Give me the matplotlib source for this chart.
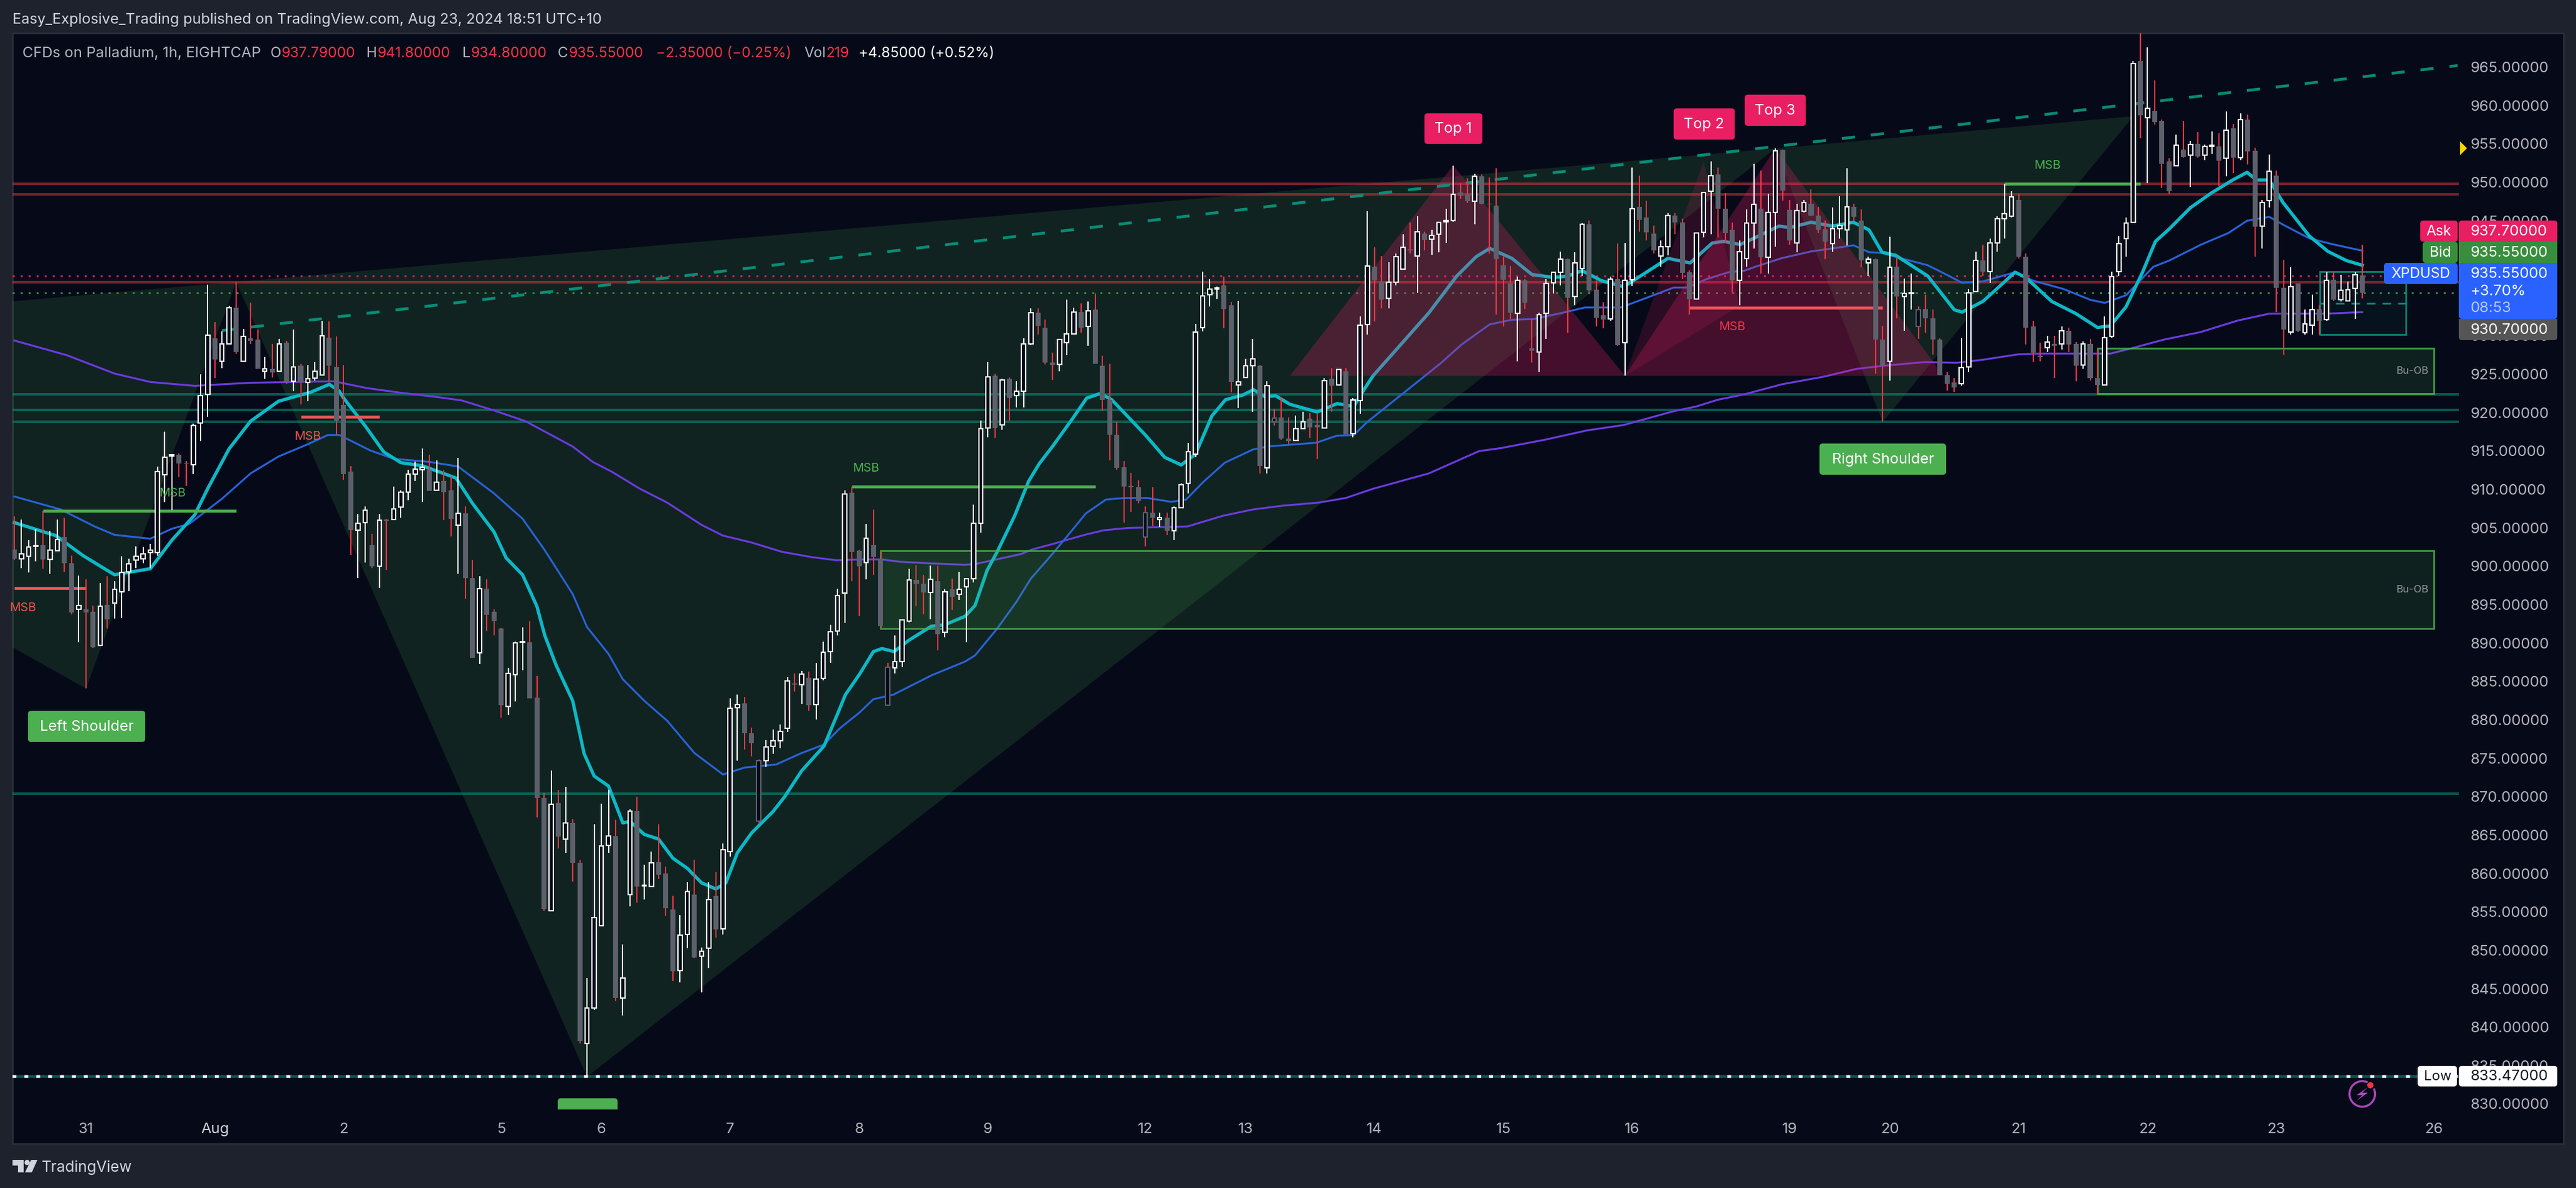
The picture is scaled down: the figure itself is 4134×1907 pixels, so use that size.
import matplotlib
matplotlib.use("Agg")
import matplotlib.pyplot as plt
from matplotlib.patches import Polygon, Rectangle, FancyBboxPatch, Circle, Arc
import numpy as np

plt.rcParams['font.family'] = ['Inter', 'DejaVu Sans']

# ---------- candle data (hourly bars) ----------
opens = [902.1,900.9,901.2,902.5,902.7,900.8,901.9,903.7,900.3,894.3,
894.3,894.0,889.6,894.9,895.1,896.6,899.2,900.7,900.9,901.7,
901.7,911.8,914.3,914.4,913.3,913.1,918.6,922.3,929.6,926.6,
928.9,933.6,926.6,929.6,929.4,925.3,925.6,925.3,929.0,924.0,
926.0,923.8,924.4,924.8,929.7,925.9,920.9,912.2,904.6,905.6,
902.7,899.9,906.0,906.0,907.6,909.6,911.9,912.5,912.5,909.8,
911.0,909.8,905.3,906.8,898.4,888.6,897.0,894.0,891.8,881.7,
885.8,890.0,890.0,882.8,869.7,855.1,869.1,864.4,866.5,861.3,
837.8,842.4,853.1,863.6,864.8,843.7,857.2,868.0,858.3,858.2,
861.4,859.9,855.2,847.3,852.0,857.2,849.1,850.2,857.0,852.7,
862.8,881.5,882.1,878.2,874.6,874.6,876.5,877.2,878.8,884.7,
884.5,885.4,881.9,885.3,888.8,891.5,896.4,909.5,901.9,900.4,
902.7,900.9,886.8,886.7,887.5,892.8,898.1,897.6,896.5,898.0,
891.3,896.9,896.3,897.2,898.3,905.5,917.9,924.7,918.3,924.3,
922.1,922.7,928.9,932.9,931.0,926.4,926.2,929.0,930.2,933.0,
931.1,933.3,926.0,921.6,917.0,912.8,910.4,910.2,906.9,906.9,
906.0,906.2,904.5,907.5,910.7,914.5,931.0,935.3,936.0,936.5,
933.9,923.5,924.5,926.0,926.0,912.7,919.2,919.3,916.5,916.3,
917.8,919.1,918.3,917.9,924.3,923.5,925.3,917.2,921.5,931.4,
938.9,937.0,934.8,936.9,938.6,941.2,940.3,943.2,942.5,943.1,
944.8,944.9,948.6,948.3,947.4,950.7,947.1,946.9,939.1,936.7,
932.8,937.1,928.3,927.8,932.8,936.8,938.2,939.9,935.0,938.7,
944.4,935.9,932.6,932.1,937.3,929.0,937.2,946.7,945.3,943.2,
940.3,941.5,945.6,944.7,938.2,934.7,943.4,948.7,950.9,946.5,
943.7,937.1,940.0,944.6,946.5,940.1,946.0,954.1,946.3,942.0,
946.1,947.1,945.6,943.8,941.9,943.9,943.7,946.7,944.9,939.4,
939.9,929.4,926.6,938.9,935.0,935.4,933.3,933.4,932.2,929.4,
924.8,923.8,923.7,925.9,935.7,939.7,938.3,942.0,945.2,945.5,
947.6,940.2,931.1,927.3,928.4,928.9,928.9,930.6,928.9,926.1,
928.9,924.4,923.5,929.8,938.3,942.6,944.7,965.7,958.3,959.2,
957.9,952.6,952.1,954.2,953.4,954.9,953.4,954.6,954.6,953.0,
956.9,953.1,958.1,954.0,944.2,947.5,950.8,936.2,930.4,936.7,
930.3,931.3,933.4,932.0,937.2,934.6,934.5,936.1,937.79]

closes = [900.9,901.5,902.4,902.6,900.8,902.0,903.4,900.3,893.9,894.8,
893.9,889.4,894.7,893.0,896.9,899.1,900.2,901.2,901.5,902.0,
912.2,914.1,914.4,913.3,913.2,918.2,922.1,930.0,926.8,928.9,
933.6,927.8,929.8,929.3,925.6,925.6,925.1,928.9,923.9,925.9,
923.8,924.3,925.3,929.9,926.0,918.9,911.9,904.6,905.5,907.2,
899.9,905.9,905.8,907.4,909.6,911.9,912.6,912.8,909.7,910.9,
909.6,906.1,906.8,898.4,888.0,897.0,893.6,892.8,881.8,886.0,
889.9,890.1,882.7,869.7,855.3,868.9,864.7,866.5,861.3,838.1,
842.4,854.2,863.5,864.8,843.7,846.3,868.0,858.2,858.4,861.3,
859.8,855.4,847.2,851.9,857.6,849.0,849.8,856.5,852.6,863.0,
881.4,881.9,878.2,876.9,866.7,876.4,877.2,878.4,885.0,884.5,
885.9,881.8,885.2,888.7,891.4,896.1,909.3,901.8,899.9,903.6,
901.1,892.1,881.8,887.5,892.9,898.1,897.6,896.5,898.2,891.1,
896.6,895.9,896.9,898.3,905.5,917.8,924.6,917.9,924.2,921.8,
922.7,928.9,932.9,931.2,926.4,926.1,929.4,930.2,933.0,931.0,
933.2,926.3,921.6,917.0,912.7,910.3,910.2,908.4,903.7,906.2,
906.2,904.5,907.5,910.5,914.8,930.4,935.1,936.0,936.2,933.4,
923.9,923.9,926.0,926.9,913.0,923.4,918.7,916.5,916.2,917.8,
918.7,918.0,918.0,924.1,923.4,925.5,917.1,921.6,931.3,939.0,
937.1,934.6,936.9,940.2,941.4,941.0,943.5,942.4,943.0,944.7,
944.9,948.3,948.2,947.4,950.7,947.1,947.0,939.9,937.2,932.9,
937.1,934.2,928.0,932.7,936.7,938.2,939.9,934.9,939.4,944.4,
935.8,932.3,932.0,937.3,928.7,937.1,946.5,945.0,943.4,941.0,
941.5,945.6,944.7,938.1,934.7,943.3,948.6,950.8,946.5,943.3,
937.1,940.9,944.6,947.0,940.1,946.0,954.0,948.8,942.3,946.2,
947.3,945.6,943.7,942.2,943.9,944.3,946.7,945.4,939.7,939.9,
929.4,926.0,938.8,935.0,935.4,935.5,931.1,932.2,929.4,924.8,
923.7,923.2,925.8,935.5,939.7,938.3,942.0,945.2,945.8,948.0,
940.2,931.0,927.7,927.2,929.1,928.6,930.6,928.8,926.0,928.9,
924.4,923.5,929.7,937.6,941.9,944.6,965.4,958.6,959.5,957.7,
952.3,948.7,954.7,953.2,954.8,953.3,954.6,954.7,952.7,956.7,
953.1,958.1,953.9,944.1,947.3,951.3,936.2,930.7,936.3,930.6,
931.5,933.3,931.9,937.1,934.6,935.8,935.9,937.9,935.55]

highs = [906.4,906.0,903.3,904.8,907.1,904.5,906.0,906.2,901.3,898.7,
898.2,894.8,897.7,898.6,898.0,901.2,900.9,902.5,902.4,902.8,
912.9,917.4,914.5,914.6,913.6,918.5,924.9,936.6,931.7,930.5,
933.8,936.9,930.8,934.2,930.7,927.2,928.9,929.5,929.3,930.7,
926.3,926.1,926.5,931.9,931.8,929.8,926.1,913.0,906.7,907.7,
904.1,906.7,906.1,910.3,909.8,912.5,913.5,915.2,914.4,913.7,
912.4,911.7,914.0,907.7,900.7,898.6,898.2,894.3,891.9,886.7,
890.1,892.0,892.8,885.6,870.4,873.3,870.8,871.2,867.0,861.7,
846.3,866.3,869.0,870.8,866.9,850.7,868.3,869.9,861.1,862.8,
866.3,860.8,857.0,854.5,858.8,861.7,850.3,858.8,860.1,863.8,
882.7,883.2,882.9,878.9,874.8,877.3,878.7,879.3,885.5,886.0,
886.3,886.2,887.3,890.1,892.3,897.0,909.8,910.3,902.0,905.4,
907.3,901.9,887.3,890.9,892.9,899.6,900.1,898.8,900.0,900.0,
896.9,898.3,899.2,898.4,907.9,918.9,926.5,925.0,924.3,924.5,
924.0,929.6,933.5,933.5,932.0,927.7,929.5,934.6,933.6,934.1,
934.4,935.4,927.3,926.3,918.7,913.6,912.1,911.1,907.7,910.2,
906.9,906.9,907.7,910.7,916.0,931.5,938.3,937.3,936.3,937.6,
934.3,934.5,926.9,929.5,926.1,924.0,920.4,922.0,919.3,919.5,
920.0,919.9,919.9,924.4,925.7,925.6,925.7,921.8,932.4,946.1,
941.4,940.3,939.5,940.6,943.1,944.7,945.5,943.5,943.7,944.8,
946.5,952.1,949.8,950.4,951.0,950.9,950.5,951.7,940.2,939.0,
937.6,937.3,932.1,932.9,937.3,938.3,940.9,940.0,940.8,944.6,
944.9,937.1,934.3,937.6,941.9,942.0,951.8,950.8,947.5,944.3,
942.3,945.9,945.9,945.2,938.4,943.4,948.6,952.6,951.8,948.5,
944.7,942.3,946.4,952.3,951.4,948.4,954.3,954.2,947.6,947.1,
947.6,949.0,946.7,944.9,946.6,948.1,951.7,947.1,946.4,940.2,
940.0,931.2,942.8,940.2,937.4,938.0,933.7,935.3,933.3,929.6,
925.2,924.4,929.6,936.0,940.9,941.8,942.6,945.5,949.7,948.7,
948.4,940.6,931.9,929.0,929.9,929.9,931.1,931.0,929.1,929.2,
929.5,928.1,932.4,938.3,942.9,945.3,965.7,969.3,967.5,963.2,
958.1,953.0,956.1,957.9,955.3,956.4,954.8,956.5,956.3,959.1,
957.5,958.9,958.7,954.4,947.6,953.5,951.4,939.8,938.8,936.7,
933.3,935.3,933.9,938.2,938.3,937.9,937.0,938.2,941.8]

lows = [900.7,899.7,899.1,900.6,899.6,898.9,901.9,899.2,893.7,890.0,
884.0,889.3,889.6,891.8,893.1,893.2,896.7,899.7,900.3,899.7,
901.3,908.3,907.2,911.5,910.4,911.9,916.2,919.4,924.4,925.7,
928.8,927.6,926.6,928.9,925.6,924.3,924.5,925.2,923.7,922.7,
921.0,921.4,924.1,924.8,924.0,917.0,911.2,901.4,898.4,900.4,
899.7,897.1,899.4,906.0,906.2,908.5,911.0,908.3,909.7,909.7,
905.9,903.8,898.9,895.7,888.0,887.2,891.5,890.9,880.2,880.5,
882.3,886.4,882.7,867.2,855.1,855.1,863.2,862.6,858.9,837.8,
833.47,842.2,853.0,862.6,843.3,841.4,855.6,856.1,856.5,858.2,
859.2,854.4,845.9,845.7,850.2,848.9,844.4,847.6,851.6,852.0,
862.1,874.6,876.1,875.2,866.4,873.8,875.5,876.2,878.3,883.6,
882.0,881.1,880.0,885.1,887.3,890.9,892.5,898.0,893.4,898.2,
898.8,891.8,881.8,886.0,886.8,892.6,894.7,893.7,893.0,889.0,
890.7,894.2,895.5,890.0,897.8,904.3,916.7,916.6,917.7,918.9,
920.6,920.6,928.7,930.1,926.2,924.2,925.3,927.4,930.2,930.3,
928.6,926.3,920.1,913.7,912.5,905.6,907.0,908.1,902.5,905.2,
905.0,904.0,903.3,907.5,909.4,914.1,930.5,933.7,934.7,930.9,
922.5,920.5,924.5,920.0,912.0,912.0,918.2,916.4,915.8,916.2,
917.8,916.6,913.9,917.8,920.0,923.4,917.1,916.7,919.8,930.1,
931.8,933.5,933.5,936.5,938.5,940.6,935.5,941.0,940.5,940.8,
942.0,944.8,947.8,947.2,944.4,947.0,940.6,932.7,931.1,932.1,
926.6,933.4,926.4,925.2,929.5,935.4,936.5,930.3,933.9,937.7,
935.5,931.1,930.9,931.9,928.6,924.7,936.4,943.5,942.3,940.6,
938.9,940.4,943.1,937.3,932.7,934.6,942.7,943.1,942.7,942.0,
935.6,933.9,938.9,941.3,938.0,938.0,941.5,947.5,941.8,940.8,
946.0,945.5,943.3,939.9,940.9,942.6,941.7,944.9,938.8,937.7,
925.0,918.7,924.1,932.2,930.6,933.3,929.5,930.3,927.5,924.8,
922.8,922.6,923.4,925.2,935.6,937.7,936.8,940.9,942.6,945.3,
940.0,928.8,926.5,926.6,927.8,924.4,928.1,927.8,924.0,925.6,
924.1,922.4,923.4,929.7,937.7,940.2,944.6,955.6,949.8,957.4,
949.1,948.4,952.1,953.1,949.3,953.1,952.8,953.6,949.4,950.7,
951.1,952.8,952.2,940.2,941.3,946.6,933.0,927.4,930.1,930.4,
930.1,930.1,930.1,931.9,934.5,934.4,934.4,932.1,934.8]

hollow_bars = [104, 122, 158, 176, 266]

# moving averages (bar position, price)
fast_i = [0,5.8,9.6,14,19,22,25.2,27,30,33,36.9,41.5,44,45.4,46,49,51.6,54,57,61.7,64,67,68.7,71,73,74.1,75.7,78,79.6,81,83,84,85,86,88,90,92,94,96,98,99.4,101,103,106,107.6,110,113.1,115,116.1,118.1,120,121.2,122.9,125,128.1,130,132.8,134.2,135.9,137.3,139.7,141.7,143.2,145.1,147.8,149.8,151.7,153.3,158,160.7,163,165,167.3,169.2,171.6,173.1,174.7,176.2,178.2,182,184.8,187.1,188.6,189.8,193.7,197.6,201.5,204.2,206.1,209.2,212,215.1,217,219,221.7,224.8,227.5,231,234.1,237.2,238.8,241.1,243.2,246.5,248,251,254,256.9,259.1,260.9,262.8,267.3,271,272.1,275,279.5,281,284.6,288,291,292.8,295,297.3,299.1,301,304,306.9,309.9,311.9,313.2,315,316.9,320.6,323.2,325.8,328]
fast_p = [905.6,903.9,901.3,898.8,899.6,903.3,906.6,910,915.2,918.8,921.4,922.6,923.6,922.7,921.8,918.2,914.8,913.4,913,911.4,908.1,904.4,901,898.8,894.7,890.9,887,882.4,875.5,872.6,871.3,868.9,866.5,866.7,865,864.4,861.9,860.6,858.7,857.9,858.7,862.6,865.2,868,869.9,873.3,876.5,880.7,883.2,885.9,888.8,889.2,888.8,890.3,892.1,892.3,893.4,894.8,899.4,901.8,906.4,911,913.3,915.6,919.1,921.8,922.4,921.6,917,914.1,913.1,914.5,919.5,921.6,922.2,922.9,922,922.1,921,920,921.1,920.7,923,924.7,928.8,932.9,937.7,940.2,941.3,940,937.9,937.5,937.7,938.4,937.1,936.3,937.9,940,939.4,942,942.2,941.8,942.7,944.2,944,944.7,944.2,944.7,943.7,940.8,940.4,937.7,933.3,933,934.4,938.2,937.5,934.4,932.8,931,931.2,933.7,938.2,942.2,943.8,946.6,948.5,950.2,951.2,950.2,950.2,947.3,942.9,940.9,939.7,939.1]

mid_i = [0,6.5,11.2,14,19,22,24.4,29,33,36.9,41,43.8,45.4,49.7,53,58,62,67,71,74.1,78,80,83,85,88,91.2,95,99,102,106.4,110,113.1,115.3,118.1,120,122.8,128.1,132.8,134.2,137.3,140,142,145,146.7,149.7,152.5,155,158.3,161.6,163.7,166.1,169.1,173,175,177.8,181.9,184.7,187.1,189,193.7,199.2,202.2,206.1,209.2,212.3,216.2,219.4,224.4,228.7,231.8,233.7,236.4,239.5,241.7,243.2,246.8,251,254,256.9,259.1,260.9,262.8,267.3,270.3,272.1,275,279.5,282,286.3,290,292,295,298.8,301,305.5,309.3,311.9,315,316.9,320.6,324,328]
mid_p = [909,907.3,905.1,904,903.5,904.8,905.4,908.7,912,914.2,915.8,917,917,915,913.9,913.5,912.9,909.4,906.1,902,896.3,892,888.5,885.2,882.4,879.8,875.6,872.8,873.7,874.1,875.6,876.7,878.8,880.9,882.6,883.2,885.7,887.5,888.3,891.8,895.3,898.3,901.5,903.4,906.8,908.6,908.8,908.8,908.3,908.6,910.9,913.4,915.1,915.5,915.7,916,916.9,917,918.7,922.2,926.3,928.8,931.4,932,932.1,932.9,933.6,933.6,935.1,936.2,936.2,937.3,938.2,938.4,938.9,940,940.9,941.3,941.7,940.8,940.7,940.2,939.1,937.7,936.8,937,938.2,937.1,936,934.6,934.2,935.2,938.9,939.7,941.8,943.3,944.9,945.4,944.4,942.6,941.8,941]

slow_i = [0,7.3,14,19,25.2,29,33,39.2,44.6,49.3,54,59.4,62.5,67,71.4,78,80.8,83.5,87.4,91.2,96,99,103,107.2,111.4,114.8,118.4,121.2,123.7,127.8,132.8,134.2,136.7,140.6,142.2,145,149.5,152.2,155.6,163.9,168.9,173,177.2,182.2,186,189.8,197.6,204.6,207.7,213.9,219.7,224.8,231.8,234.9,238,241.7,246.9,252.8,257.3,260.9,266.9,271.3,275,279.9,283.2,292.8,295.4,300.2,305.4,310.6,315,323.2,328]
slow_p = [929.3,927.4,925,923.9,923.4,923.6,923.8,923.9,924,923.1,922.5,921.9,921.5,920.2,918.8,915.5,913.5,912.2,910,908.2,905.3,903.9,903,901.8,901.1,900.7,900.8,900.8,900.5,900.3,900.1,900.2,900.7,901.5,902.1,902.8,904,904.6,904.9,905.1,906.5,907.3,907.8,908.2,908.8,910,912,914.9,915.3,916.4,917.6,918.3,920.1,920.7,921.6,922.3,923.6,924.6,925.6,926,926.5,926.4,926.8,927.5,927.6,927.6,928.2,929.4,930.4,931.9,932.8,932.8,933]

# price levels
red_levels = [949.7, 948.3, 936.9]
teal_levels = [922.3, 920.3, 918.7, 870.3]
ask_price, bid_price, low_price = 937.7, 935.55, 833.47

# drawn structure: head and shoulders fill and triple top (bar position, price)
hs_main_i = [-30, 246, 80, 31, 10, -30]
hs_main_p = [932.0, 954.3, 833.47, 936.9, 884.0, 905.0]
hs_right_i = [246, 261, 296]
hs_right_p = [954.3, 918.7, 958.5]
top1_i = [178.2, 201, 225]
top1_p = [924.7, 952.1, 924.7]
top2_i = [225, 236, 241]
top2_p = [924.7, 952.6, 933.8]
top3_i = [225, 246, 269.5]
top3_p = [924.7, 954.3, 924.7]
trend_i = [29, 341.3]
trend_p = [930.6, 965.1]

# structure breaks: start bar, end bar, price, label colour key
msb_start = [4, 0, 40, 117, 234, 278]
msb_end = [31, 10, 51, 151, 261, 297]
msb_price = [907.1, 897.1, 919.4, 910.3, 933.6, 949.7]
msb_kind = ['g', 'r', 'r', 'g', 'r', 'g']

# order blocks and the position box
ob_start = [121, 291]
ob_end = [338, 338]
ob_top = [901.9, 928.3]
ob_bottom = [891.8, 922.4]
pos_start, pos_end = 322.1, 334.1
pos_top, pos_mid, pos_bottom = 938.3, 934.1, 930.1

# axis labels (935 and 940 sit wholly behind the price tags)
price_ticks = [830, 835, 840, 845, 850, 855, 860, 865, 870, 875, 880, 885, 890, 895, 900, 905, 910, 915,
               920, 925, 930, 945, 950, 955, 960, 965]
day_pos = [10, 28, 46, 68, 82, 100, 118, 136, 158, 172, 190, 208, 226, 248, 262, 280, 298, 316, 338]
day_labels = ['31', 'Aug', '2', '5', '6', '7', '8', '9', '12', '13', '14', '15', '16', '19', '20', '21', '22', '23', '26']

# ---------- style ----------
W, H = 4134, 1908
BG = '#060a18'
CHROME = '#1e222d'
BORDER = '#2a2e39'
GREY = '#5d606b'
RED = '#f23645'
GREEN = '#4caf50'
TEAL = '#089981'
PINK = '#e91e63'
TXT = '#b2b5be'

fig = plt.figure(figsize=(W / 100, H / 100), dpi=100, facecolor=CHROME)

def rect(l, t, r, b):
    return [l / W, 1 - b / H, (r - l) / W, (b - t) / H]

pane = fig.add_axes([0, 0, 1, 1], zorder=0)
pane.set_xlim(0, W); pane.set_ylim(H, 0); pane.axis('off')
pane.add_patch(Rectangle((20, 54), 4094, 1783, fc=BG, ec=BORDER, lw=2))

ax = fig.add_axes(rect(20, 54, 3946, 1781), zorder=1)
ax.set_facecolor(BG)
ax.patch.set_alpha(0)
for s in ax.spines.values():
    s.set_visible(False)
ax.set_xlim((20 - 23) / 11.488, (3946 - 23) / 11.488)
ax.set_ylim(830 - (1781 - 1772) / 12.33, 830 + (1772 - 54) / 12.33)

ax.yaxis.tick_right()
ax.set_yticks(price_ticks)
ax.set_yticklabels([f'{p:.5f}' for p in price_ticks])
ax.tick_params(axis='y', length=0, pad=13.5, labelsize=17.2, labelcolor=TXT)
ax.set_xticks(day_pos)
ax.set_xticklabels(day_labels)
ax.tick_params(axis='x', length=0, pad=15, labelsize=17.2, labelcolor=TXT)
for lab in ax.get_xticklabels():
    if lab.get_text() == 'Aug':
        lab.set_color('#d1d4dc')

# fills
ax.add_patch(Polygon(list(zip(hs_main_i, hs_main_p)), fc=GREEN, alpha=0.155, lw=0, zorder=1))
ax.add_patch(Polygon(list(zip(hs_right_i, hs_right_p)), fc=GREEN, alpha=0.155, lw=0, zorder=1))

# levels
for lv in red_levels:
    ax.axhline(lv, color=RED, alpha=0.48, lw=2.9, zorder=2)
for lv in teal_levels:
    ax.axhline(lv, color=TEAL, alpha=0.55, lw=2.9, zorder=2)
ax.axhline(ask_price, color=PINK, lw=2.2, ls=(0, (1, 3.2)), zorder=2)
ax.axhline(bid_price, color='#388e3c', lw=2.2, ls=(0, (1, 3.2)), zorder=2)
ax.axhline(low_price, color=TEAL, alpha=0.55, lw=3.2, zorder=2)
ax.axhline(low_price, color='white', lw=3.2, ls=(0, (1.4, 2.9)), zorder=2.1)

# moving averages
ax.plot(slow_i, slow_p, color='#6c3be0', lw=2.2, zorder=2.2, solid_joinstyle='round')
ax.plot(mid_i, mid_p, color='#2962d8', lw=2.2, zorder=2.3, solid_joinstyle='round')
ax.plot(fast_i, fast_p, color='#0cb8c6', lw=3.8, zorder=2.4, solid_joinstyle='round')

# triple top
ax.add_patch(Polygon(list(zip(top1_i, top1_p)), fc=PINK, alpha=0.27, lw=0, zorder=3))
ax.add_patch(Polygon(list(zip(top2_i, top2_p)), fc=PINK, alpha=0.16, lw=0, zorder=3))
ax.add_patch(Polygon(list(zip(top3_i, top3_p)), fc=PINK, alpha=0.27, lw=0, zorder=3))

# order blocks and position box
for s, e, t, b in zip(ob_start, ob_end, ob_top, ob_bottom):
    ax.add_patch(Rectangle((s, b), e - s, t - b, fc=GREEN, alpha=0.14, lw=0, zorder=3.1))
    ax.add_patch(Rectangle((s, b), e - s, t - b, fc='none', ec=GREEN, alpha=0.8, lw=2.1, zorder=3.2))
ax.add_patch(Rectangle((pos_start, pos_bottom), pos_end - pos_start, pos_top - pos_bottom,
                       fc=TEAL, alpha=0.06, lw=0, zorder=3.1))
ax.add_patch(Rectangle((pos_start, pos_bottom), pos_end - pos_start, pos_top - pos_bottom,
                       fc='none', ec=TEAL, lw=2.0, alpha=0.85, zorder=3.2))
ax.plot([pos_start, pos_end], [pos_mid, pos_mid], color=TEAL, lw=2.0, ls=(0, (5, 4)), alpha=0.9, zorder=3.2)

# trend line
ax.plot(trend_i, trend_p, color=TEAL, lw=3.3, alpha=0.9, ls=(0, (4.6, 5.6)), zorder=3.3)

# structure breaks
for s, e, p, k in zip(msb_start, msb_end, msb_price, msb_kind):
    ax.plot([s, e], [p, p], color=GREEN if k == 'g' else '#f0555a', lw=3.4, zorder=3.4, solid_capstyle='butt')

# candles
x = np.arange(len(opens))
o, c, hi, lo = map(np.array, (opens, closes, highs, lows))
up = c >= o
is_hollow = np.isin(x, hollow_bars)
ax.vlines(x[up], lo[up], hi[up], color='white', lw=1.45, zorder=4)
ax.vlines(x[~up], lo[~up], hi[~up], color=RED, lw=1.45, zorder=4)
top = np.maximum(o, c); bot = np.minimum(o, c)
solid = (~up) & (~is_hollow)
ax.bar(x[solid], (top - bot)[solid], bottom=bot[solid], width=0.7, color=GREY, lw=0, zorder=4.1)
ax.bar(x[up], (top - bot)[up], bottom=bot[up], width=0.58, facecolor=BG, edgecolor='white', lw=1.5, zorder=4.1)
ax.bar(x[is_hollow], (top - bot)[is_hollow], bottom=bot[is_hollow], width=0.58, facecolor=BG, edgecolor=GREY, lw=1.5, zorder=4.1)

# ---------- overlay in pixel coordinates: labels and chrome ----------
ov = fig.add_axes([0, 0, 1, 1], zorder=5)
ov.set_xlim(0, W); ov.set_ylim(H, 0); ov.axis('off'); ov.patch.set_alpha(0)

def box(l, t, r, b, color, rad=5):
    p = FancyBboxPatch((l + rad, t + rad), r - l - 2 * rad, b - t - 2 * rad,
                       boxstyle=f'round,pad={rad},rounding_size={rad}', fc=color, ec='none', zorder=6)
    ov.add_patch(p)
    return p

def tag(l, t, r, b, color, s, size=17):
    box(l, t, r, b, color)
    ov.text((l + r) / 2, (t + b) / 2, s, color='white', fontsize=size, ha='center', va='center', zorder=7)

tag(2286, 183, 2379, 232, PINK, 'Top 1')
tag(2686, 175, 2784, 225, PINK, 'Top 2')
tag(2800, 153, 2898, 203, PINK, 'Top 3')
tag(2920, 713, 3123, 763, GREEN, 'Right Shoulder')
tag(45, 1142, 233, 1192, GREEN, 'Left Shoulder')

# the Head tag is cut by the bottom edge of the price pane
clip = Rectangle((880, 1750), 130, 31.5, transform=ov.transData)
hb = box(895, 1764, 991, 1812, GREEN)
hb.set_clip_path(clip)
ht = ov.text(943, 1796, 'Head', color='white', fontsize=17, ha='center', va='center', zorder=7, clip_on=True)
ht.set_clip_path(clip)

for tx, ty, s, col in [(277, 792, 'MSB', GREEN), (37, 976, 'MSB', '#ef5350'), (494, 701, 'MSB', '#ef5350'),
                       (1390, 752, 'MSB', GREEN), (2780, 525, 'MSB', RED), (3286, 266, 'MSB', GREEN)]:
    ov.text(tx, ty, s, color=col, fontsize=14, ha='center', va='center', zorder=7)
ov.text(3872, 947, 'Bu-OB', color='#9598a1', fontsize=12, ha='center', va='center', zorder=7)
ov.text(3872, 596, 'Bu-OB', color='#9598a1', fontsize=12, ha='center', va='center', zorder=7)

# header and legend
ov.text(20, 32, 'Easy_Explosive_Trading published on TradingView.com, Aug 23, 2024 18:51 UTC+10',
        color='#d1d4dc', fontsize=17, ha='left', va='center')
LEG = 16.5
ov.text(36, 86, 'CFDs on Palladium, 1h, EIGHTCAP', color=TXT, fontsize=17.1, ha='left', va='center')
for lx, s, col in [(434, 'O', TXT), (452, '937.79000', RED), (588, 'H', TXT), (606, '941.80000', RED),
                   (742, 'L', TXT), (756, '934.80000', RED), (895, 'C', TXT), (913, '935.55000', RED),
                   (1053, '\u22122.35000 (\u22120.25%)', RED), (1290, 'Vol', TXT), (1325, '219', RED),
                   (1378, '+4.85000 (+0.52%)', 'white')]:
    ov.text(lx, 86, s, color=col, fontsize=LEG, ha='left', va='center')

# price scale tags
box(3884, 355, 3944, 389, PINK)
ov.text(3914, 372, 'Ask', color='white', fontsize=LEG, ha='center', va='center', zorder=7)
box(3888, 389, 3944, 423, '#388e3c')
ov.text(3916, 406, 'Bid', color='white', fontsize=LEG, ha='center', va='center', zorder=7)
box(3826, 423, 3944, 457, '#2962ff')
ov.text(3885, 440, 'XPDUSD', color='white', fontsize=LEG, ha='center', va='center', zorder=7)
box(3946, 355, 4104, 389, PINK)
box(3946, 389, 4104, 423, '#388e3c')
box(3946, 423, 4104, 513, '#2962ff')
box(3946, 513, 4104, 547, '#555555')
ov.add_patch(Rectangle((3946, 370), 158, 19, fc=PINK, ec='none', zorder=6))
ov.add_patch(Rectangle((3946, 389), 158, 34, fc='#388e3c', ec='none', zorder=6))
ov.add_patch(Rectangle((3946, 423), 158, 70, fc='#2962ff', ec='none', zorder=6))
ov.add_patch(Rectangle((3946, 513), 158, 15, fc='#555555', ec='none', zorder=6))
for ty, s, col in [(372, '937.70000', 'white'), (406, '935.55000', 'white'), (440, '935.55000', 'white'),
                   (468, '+3.70%', 'white'), (495, '08:53', '#b9c8ff'), (530, '930.70000', 'white')]:
    ov.text(3965, ty, s, color=col, fontsize=17.2, ha='left', va='center', zorder=7)
box(3880, 1712, 3943, 1745, 'white')
box(3946, 1712, 4104, 1745, 'white')
ov.text(3912, 1728.5, 'Low', color='#131722', fontsize=16, ha='center', va='center', zorder=7)
ov.text(3965, 1728.5, '833.47000', color='#131722', fontsize=17.2, ha='left', va='center', zorder=7)

# yellow last-visit marker
ov.add_patch(Polygon([(3948, 228), (3959, 239), (3948, 250)], fc='#ffd600', ec='none', zorder=7))

# lightning icon
ov.add_patch(Arc((3791, 1757), 41, 41, theta1=-25, theta2=295, ec='#ab47bc', lw=2.4, zorder=7))
ov.add_patch(Polygon([(3800, 1746), (3782, 1759), (3791, 1759), (3782, 1768), (3800, 1755), (3791, 1755)],
                     fc='#ab47bc', ec='none', zorder=7))
ov.add_patch(Circle((3804, 1743), 5, fc=RED, ec='none', zorder=7.1))

# TradingView logo
LOGO = '#d1d4dc'
ov.add_patch(Polygon([(20, 1863), (38, 1863), (38, 1883), (29, 1883), (29, 1872), (20, 1872)], fc=LOGO, ec='none'))
ov.add_patch(Circle((43.5, 1867), 4.2, fc=LOGO, ec='none'))
ov.add_patch(Polygon([(50, 1863), (60, 1863), (51, 1883), (40, 1883)], fc=LOGO, ec='none'))
ov.text(67, 1874, 'TradingView', color=LOGO, fontsize=17.5, ha='left', va='center')

fig.savefig('out.png', dpi=100, facecolor=CHROME)
